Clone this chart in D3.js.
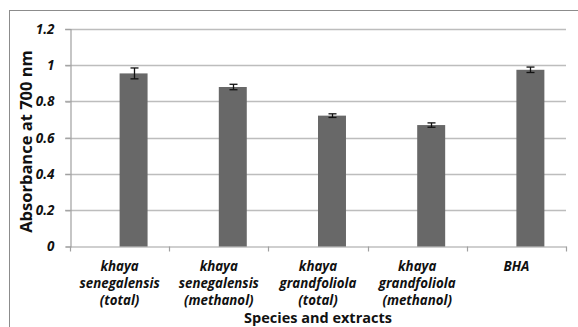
<!DOCTYPE html>
<html>
<head>
<meta charset="utf-8">
<script src="https://cdn.jsdelivr.net/npm/d3@7"></script>
<style>
  html, body { margin: 0; padding: 0; background: #fff; }
  svg { display: block; }
</style>
</head>
<body>
<svg id="chart" width="578" height="327"></svg>
<script>
// Reducing power of the extracts (absorbance at 700 nm)
const categories = [
  ["khaya", "senegalensis", "(total)"],
  ["khaya", "senegalensis", "(methanol)"],
  ["khaya", "grandfoliola", "(total)"],
  ["khaya", "grandfoliola", "(methanol)"],
  ["BHA"]
];
const absorbance = [0.955, 0.88, 0.722, 0.67, 0.975];
const errors = [0.03, 0.015, 0.01, 0.012, 0.015];
const yTicks = [0, 0.2, 0.4, 0.6, 0.8, 1, 1.2];

const FONT = "'Open Sans', Lato, sans-serif";
const svg = d3.select("#chart");
const keys = categories.map(c => c.join(" "));

const x = d3.scaleBand().domain(keys).range([70, 566]).padding(0);
const y = d3.scaleLinear().domain([0, 1.2]).range([246.5, 29]);

// outer frame
svg.append("rect")
  .attr("x", 9.5).attr("y", 10.5)
  .attr("width", 700).attr("height", 400)
  .attr("fill", "none").attr("stroke", "#8c8c8c").attr("stroke-width", 1);

// gridlines
svg.append("g")
  .selectAll("line")
  .data(yTicks.filter(t => t > 0))
  .join("line")
  .attr("x1", 65).attr("x2", 566)
  .attr("y1", d => Math.round(y(d)) + 0.5)
  .attr("y2", d => Math.round(y(d)) + 0.5)
  .attr("stroke", "#bdbdbd").attr("stroke-width", 1.5);

// y axis
const yAxis = svg.append("g")
  .attr("transform", "translate(70.5,0)")
  .call(d3.axisLeft(y).tickValues(yTicks).tickSize(5).tickPadding(11)
    .tickFormat(d => d3.format("")(d)));
yAxis.select(".domain").attr("stroke", "#a0a0a0").attr("stroke-width", 1.2);
yAxis.selectAll(".tick line").attr("stroke", "#a0a0a0").attr("stroke-width", 1.2);
yAxis.selectAll(".tick text")
  .attr("font-family", FONT)
  .attr("font-weight", "bold").attr("font-style", "italic")
  .attr("font-size", 13.5).attr("fill", "#111");

// x axis
const xAxis = svg.append("g")
  .attr("transform", `translate(0,${y(0)})`)
  .call(d3.axisBottom(x).tickSize(0).tickFormat(""));
xAxis.select(".domain").attr("stroke", "#a0a0a0").attr("stroke-width", 1.2);
xAxis.selectAll(".tick").remove();
// category boundary ticks
svg.append("g")
  .selectAll("line")
  .data(keys.map(k => x(k)).concat([x.range()[1]]))
  .join("line")
  .attr("x1", d => Math.round(d) + 0.5).attr("x2", d => Math.round(d) + 0.5)
  .attr("y1", y(0)).attr("y2", y(0) + 5)
  .attr("stroke", "#a0a0a0").attr("stroke-width", 1.2);

// bars (placed in the right half of each category slot)
const bw = x.bandwidth() * 0.282;
svg.append("g")
  .selectAll("rect")
  .data(absorbance)
  .join("rect")
  .attr("x", (d, i) => x(keys[i]) + x.bandwidth() / 2)
  .attr("width", bw)
  .attr("y", d => y(d))
  .attr("height", d => y(0) - y(d))
  .attr("fill", "#686868");

// error bars
const eb = svg.append("g").attr("stroke", "#111").attr("stroke-width", 1.3);
absorbance.forEach((v, i) => {
  const cx = Math.round(x(keys[i]) + x.bandwidth() / 2 + bw / 2) + 0.5;
  const e = errors[i];
  eb.append("line").attr("x1", cx).attr("x2", cx).attr("y1", y(v + e)).attr("y2", y(v - e));
  eb.append("line").attr("x1", cx - 4).attr("x2", cx + 4).attr("y1", y(v + e)).attr("y2", y(v + e));
  eb.append("line").attr("x1", cx - 4).attr("x2", cx + 4).attr("y1", y(v - e)).attr("y2", y(v - e));
});

// category labels
const lab = svg.append("g")
  .attr("font-family", FONT)
  .attr("font-weight", "bold").attr("font-style", "italic")
  .attr("font-size", 13.3).attr("fill", "#111").attr("text-anchor", "middle");
categories.forEach((lines, i) => {
  const t = lab.append("text")
    .attr("x", x(keys[i]) + x.bandwidth() / 2)
    .attr("y", 270.5);
  lines.forEach((ln, j) => {
    t.append("tspan")
      .attr("x", x(keys[i]) + x.bandwidth() / 2)
      .attr("dy", j === 0 ? 0 : 17)
      .text(ln);
  });
});

// axis titles
svg.append("text")
  .attr("x", (x.range()[0] + x.range()[1]) / 2)
  .attr("y", 322.5)
  .attr("text-anchor", "middle")
  .attr("font-family", FONT)
  .attr("font-weight", "bold").attr("font-size", 14.5).attr("fill", "#111")
  .text("Species and extracts");

svg.append("text")
  .attr("transform", "translate(31.5,141.5) rotate(-90)")
  .attr("text-anchor", "middle")
  .attr("font-family", FONT)
  .attr("font-weight", "bold").attr("font-size", 16.5).attr("fill", "#111")
  .text("Absorbance at 700 nm");
</script>
</body>
</html>
